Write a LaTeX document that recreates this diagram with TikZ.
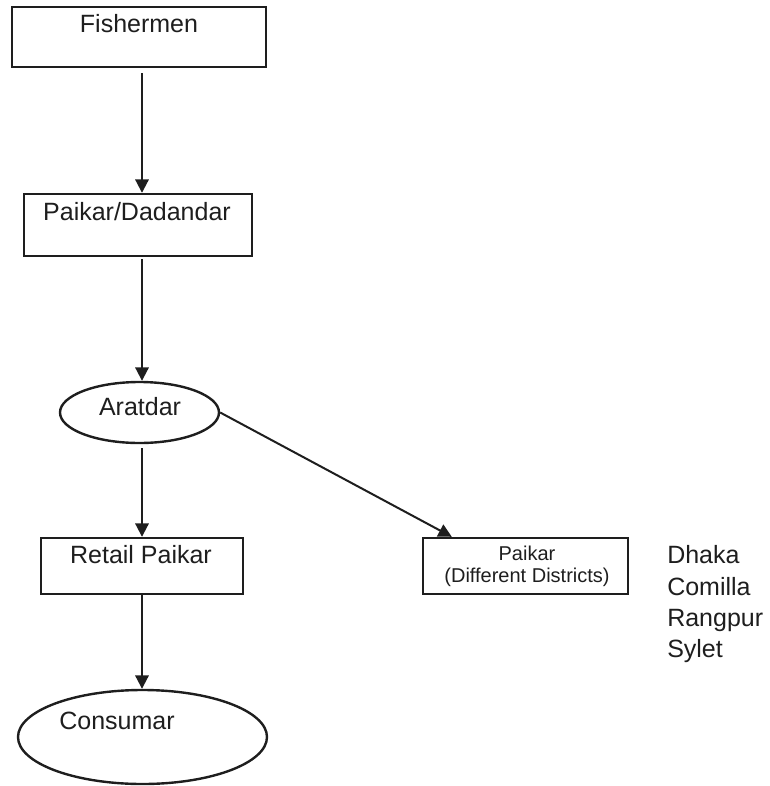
\documentclass[tikz,border=0pt]{standalone}
\usepackage{fontspec}
\setmainfont{Liberation Sans}
\usetikzlibrary{arrows.meta,shapes.geometric,calc}
\definecolor{ink}{HTML}{1E1E1E}
\begin{document}
\begin{tikzpicture}[x=0.75pt,y=-0.75pt,
  boxnode/.style={draw=ink,line width=1.8pt,rectangle,inner sep=0pt},
  ovalnode/.style={draw=ink,line width=1.8pt,ellipse,inner sep=0pt},
  bigtext/.style={text=ink,inner sep=0pt,anchor=base,font=\fontsize{18.75}{22}\selectfont},
  smalltext/.style={text=ink,inner sep=0pt,anchor=base,font=\fontsize{15}{18}\selectfont},
  flow/.style={draw=ink,line width=1.5pt,-{Triangle[length=10pt,width=10pt]}}]
\useasboundingbox (0,0) rectangle (770,786);

% boxes and ovals of the chain
\node[boxnode,minimum width=190.5pt,minimum height=45pt] (fish) at (139,37) {};
\node[boxnode,minimum width=171pt,minimum height=46.5pt] (dadan) at (138,225) {};
\node[ovalnode,minimum width=119.25pt,minimum height=45.75pt] (arat) at (139.5,412.5) {};
\node[boxnode,minimum width=151.5pt,minimum height=42pt] (retail) at (142,566) {};
\node[ovalnode,minimum width=186.75pt,minimum height=70.5pt] (cons) at (142.5,737) {};
\node[boxnode,minimum width=153.75pt,minimum height=42pt] (dist) at (525.5,566) {};

% texts
\node[bigtext] (fishT) at (139,32) {Fishermen};
\node[bigtext] (dadanT) at (137,220) {Paikar/Dadandar};
\node[bigtext] (aratT) at (140,415) {Aratdar};
\node[bigtext] (retailT) at (141,563) {Retail Paikar};
\node[bigtext] (consT) at (117,729) {Consumar};
\node[smalltext] (distA) at (527,560) {Paikar};
\node[smalltext] (distB) at (527,582) {(Different Districts)};

% districts list
\node[bigtext,anchor=base west] (d1) at (667,563) {Dhaka};
\node[bigtext,anchor=base west] (d2) at (667,595) {Comilla};
\node[bigtext,anchor=base west] (d3) at (667,626) {Rangpur};
\node[bigtext,anchor=base west] (d4) at (667,657) {Sylet};

% connectors
\coordinate (axis) at (142,0);
\coordinate (distTip) at ($(dist.north west)+(30,0)$);
\draw[flow] ($(fish.south -| axis)+(0,5)$) -- (dadan.north -| axis);
\draw[flow] ($(dadan.south -| axis)+(0,2)$) -- (arat.north -| axis);
\draw[flow] ($(arat.south -| axis)+(0,4)$) -- (retail.north -| axis);
\draw[flow] (retail.south -| axis) -- (cons.north -| axis);
\draw[flow] (arat.east) -- (distTip);
\end{tikzpicture}
\end{document}
